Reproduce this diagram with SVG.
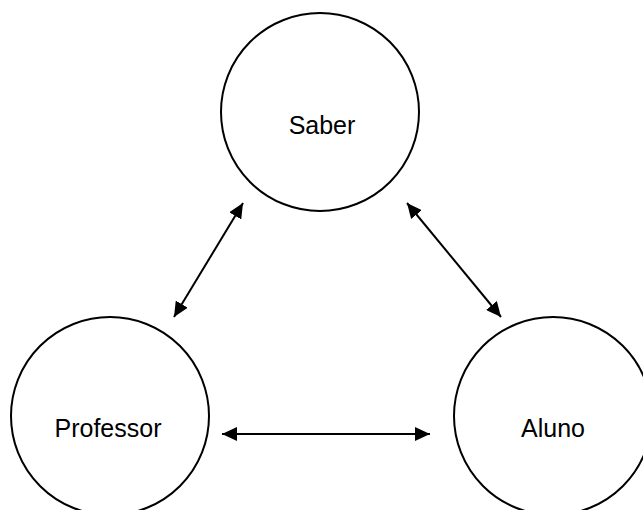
<svg xmlns="http://www.w3.org/2000/svg" width="643" height="510" viewBox="0 0 643 510">
<defs>
<style>
.node circle{fill:#fff;stroke:#000;stroke-width:2}
.node text{font-family:"Liberation Sans",Arial,sans-serif;font-size:25px;fill:#000;text-anchor:middle}
.conn line{stroke:#000;stroke-width:2}
</style>
<marker id="ah" markerUnits="userSpaceOnUse" markerWidth="15" markerHeight="14" refX="15" refY="7" orient="auto-start-reverse" viewBox="0 0 15 14">
<path d="M0,0 L15,7 L0,14 z" fill="#000"/>
</marker>
</defs>
<rect width="643" height="510" fill="#fff"/>
<g id="saber" class="node">
<circle cx="320" cy="112" r="99"/>
<text x="322" y="134">Saber</text>
</g>
<g id="professor" class="node">
<circle cx="110" cy="416" r="99"/>
<text x="108" y="437">Professor</text>
</g>
<g id="aluno" class="node">
<circle cx="553" cy="416" r="99"/>
<text x="553" y="437">Aluno</text>
</g>
<g id="connectors" class="conn">
<line x1="243" y1="203" x2="174" y2="317" marker-start="url(#ah)" marker-end="url(#ah)"/>
<line x1="407" y1="203" x2="501" y2="317" marker-start="url(#ah)" marker-end="url(#ah)"/>
<line x1="222" y1="434" x2="430" y2="434" marker-start="url(#ah)" marker-end="url(#ah)"/>
</g>
</svg>
